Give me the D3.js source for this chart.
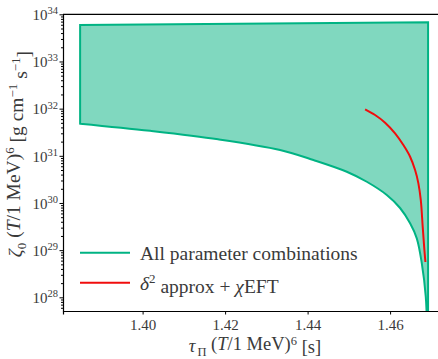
<!DOCTYPE html>
<html>
<head>
<meta charset="utf-8">
<script src="https://cdn.jsdelivr.net/npm/d3@7"></script>
<style>
  body { margin: 0; background: #fff; }
  text { font-family: "Liberation Serif", "DejaVu Serif", serif; fill: #3a3a3a; }
</style>
</head>
<body>
<div id="chart"></div>
<script>
// band of all parameter combinations: upper edge and lower edge
const tauUpper = [1.38485, 1.46921];
const zetaUpper = [5.93e33, 6.76e33];
const tauLower = [1.38485, 1.40182, 1.41830, 1.43333, 1.44141, 1.44950, 1.45435, 1.45920,
                  1.46242, 1.46485, 1.46647, 1.46768, 1.46865, 1.46905];
const zetaLower = [4.80e31, 3.38e31, 2.24e31, 1.33e31, 8.15e30, 4.60e30, 2.82e30, 1.48e30,
                   7.83e29, 3.71e29, 1.78e29, 5.33e28, 1.03e28, 1.0e27];
// delta^2 approx + chiEFT
const tauRed = [1.45394, 1.45636, 1.45879, 1.46121, 1.46322, 1.46485, 1.46606, 1.46686,
                1.46744, 1.46790, 1.46830, 1.46856];
const zetaRed = [9.68e31, 7.33e31, 5.04e31, 3.00e31, 1.69e31, 9.57e30, 5.00e30, 2.61e30,
                 1.16e30, 3.20e29, 1.05e29, 5.61e28];

const xTicks = [1.40, 1.42, 1.44, 1.46];
const yExps = [28, 29, 30, 31, 32, 33, 34];

const width = 438, height = 359;
const margin = {top: 14.3, right: -2, bottom: 48, left: 63};
const innerW = width - margin.left - margin.right;
const innerH = height - margin.top - margin.bottom;

const green = "#00b383", greenFill = "#80d8bf", red = "#f00d0d";

const svg = d3.select("#chart").append("svg")
  .attr("width", width).attr("height", height);

const g = svg.append("g")
  .attr("transform", "translate(" + margin.left + "," + margin.top + ")");

const x = d3.scaleLinear().domain([1.3807, 1.4721]).range([0, innerW]);
const y = d3.scaleLog().domain([5.13e27, 1e34]).range([innerH, 0]);

g.append("clipPath").attr("id", "clip")
  .append("rect").attr("width", innerW).attr("height", innerH);

const plot = g.append("g").attr("clip-path", "url(#clip)");

// green band
const lowerPts = tauLower.map((t, i) => [x(t), y(zetaLower[i])]);
const lowerPath = d3.line().curve(d3.curveCatmullRom)(lowerPts);
const bandPath = lowerPath +
  "L" + x(tauUpper[1]) + "," + y(1e27) +
  "L" + x(tauUpper[1]) + "," + y(zetaUpper[1]) +
  "L" + x(tauUpper[0]) + "," + y(zetaUpper[0]) + "Z";

plot.append("path")
  .attr("d", bandPath)
  .style("fill", greenFill)
  .style("stroke", green)
  .style("stroke-width", 2)
  .style("stroke-linejoin", "miter");

// red curve
plot.append("path")
  .datum(tauRed.map((t, i) => [x(t), y(zetaRed[i])]))
  .attr("d", d3.line().curve(d3.curveCatmullRom))
  .style("fill", "none")
  .style("stroke", red)
  .style("stroke-width", 2);

// axes
const xAxis = g.append("g")
  .attr("transform", "translate(0," + innerH + ")")
  .call(d3.axisBottom(x).tickValues(xTicks).tickFormat(d3.format(".2f")).tickSizeOuter(0).tickSize(3.5));
xAxis.selectAll("text").style("font-size", "15px").attr("dy", "0.85em");

const minors = [];
for (let e = 27; e < 34; e++) for (let k = 2; k <= 9; k++) {
  const v = k * Math.pow(10, e);
  if (v >= y.domain()[0] && v <= 1e34) minors.push(v);
}
g.append("g")
  .call(d3.axisLeft(y).tickValues(minors).tickFormat("").tickSize(2).tickSizeOuter(0))
  .call(a => a.select(".domain").remove());

const yAxis = g.append("g")
  .call(d3.axisLeft(y).tickValues(yExps.map(e => Math.pow(10, e))).tickFormat("").tickSize(3.5).tickSizeOuter(0));

yAxis.selectAll(".tick").each(function(d) {
  const t = d3.select(this).append("text")
    .attr("x", -5).attr("dy", "0.35em")
    .attr("text-anchor", "end")
    .style("font-size", "15px");
  t.append("tspan").text("10");
  t.append("tspan").attr("dy", "-0.55em").style("font-size", "10.5px").text(Math.round(Math.log10(d)));
});

// top spine
g.append("line")
  .attr("x1", 0).attr("x2", innerW).attr("y1", 0).attr("y2", 0)
  .style("stroke", "#000").style("stroke-width", 1.2);
g.selectAll(".domain").style("stroke-width", 1.2);

// axis labels
const xl = svg.append("text")
  .attr("x", 255).attr("y", 352)
  .attr("text-anchor", "middle")
  .style("font-size", "18.5px");
xl.append("tspan").style("font-style", "italic").text("τ");
xl.append("tspan").attr("dx", "2").attr("dy", "0.3em").style("font-size", "12.5px").text("Π");
xl.append("tspan").attr("dy", "-0.3em").text(" (");
xl.append("tspan").style("font-style", "italic").text("T");
xl.append("tspan").text("/1 MeV)");
xl.append("tspan").attr("dy", "-0.45em").style("font-size", "12.5px").text("6");
xl.append("tspan").attr("dy", "0.45em").text(" [s]");

const yl = svg.append("text")
  .attr("transform", "translate(22," + 154 + ") rotate(-90)")
  .attr("text-anchor", "middle")
  .style("font-size", "19.5px");
yl.append("tspan").style("font-style", "italic").text("ζ");
yl.append("tspan").attr("dy", "0.3em").style("font-size", "13px").text("0");
yl.append("tspan").attr("dy", "-0.3em").text(" (");
yl.append("tspan").style("font-style", "italic").text("T");
yl.append("tspan").text("/1 MeV)");
yl.append("tspan").attr("dy", "-0.5em").style("font-size", "13px").text("6");
yl.append("tspan").attr("dy", "0.5em").text(" [g cm");
yl.append("tspan").attr("dy", "-0.5em").style("font-size", "13px").text("−1");
yl.append("tspan").attr("dy", "0.5em").text(" s");
yl.append("tspan").attr("dy", "-0.5em").style("font-size", "13px").text("−1");
yl.append("tspan").attr("dy", "0.5em").text("]");

// legend
const legend = svg.append("g");
legend.append("line").attr("x1", 80).attr("x2", 130).attr("y1", 252.7).attr("y2", 252.7)
  .style("stroke", green).style("stroke-width", 2);
legend.append("line").attr("x1", 80).attr("x2", 130).attr("y1", 282.7).attr("y2", 282.7)
  .style("stroke", red).style("stroke-width", 2);
legend.append("text").attr("x", 140).attr("y", 252.7).attr("dy", "0.35em")
  .style("font-size", "19.5px").text("All parameter combinations");
const l2 = legend.append("text").attr("x", 140).attr("y", 282.7).attr("dy", "0.35em")
  .style("font-size", "19.5px");
l2.append("tspan").style("font-style", "italic").text("δ");
l2.append("tspan").attr("dy", "-0.5em").style("font-size", "13px").text("2");
l2.append("tspan").attr("dy", "0.5em").text(" approx + ");
l2.append("tspan").style("font-style", "italic").text("χ");
l2.append("tspan").text("EFT");
</script>
</body>
</html>
